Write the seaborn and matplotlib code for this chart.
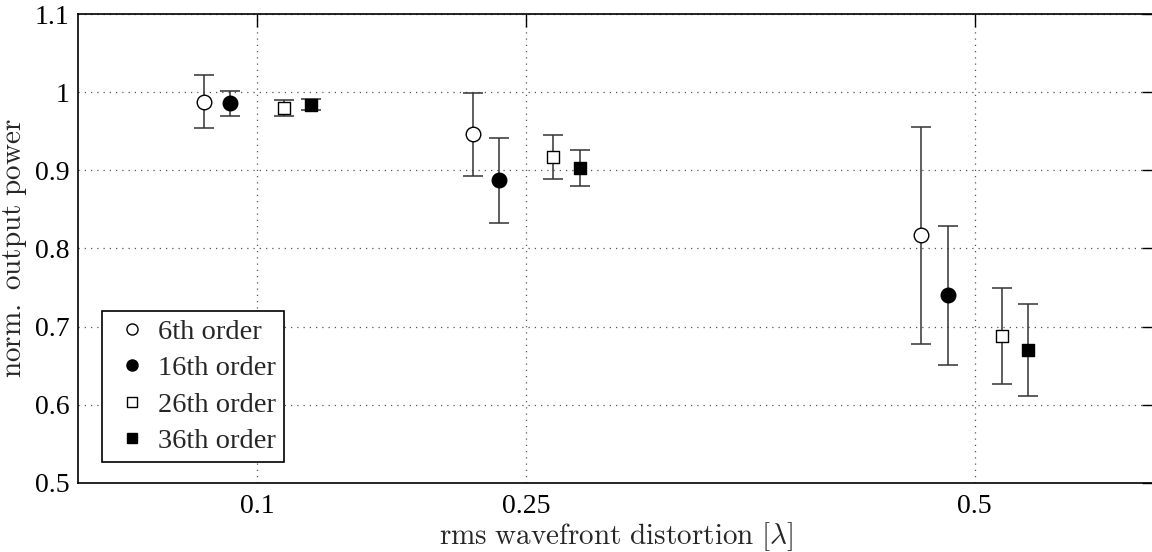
import numpy as np
import pandas as pd
import seaborn as sns
import matplotlib.pyplot as plt
from matplotlib.lines import Line2D

# rms wavefront distortion groups (in lambda)
distortion = [0.1, 0.25, 0.5]
orders = ['6th order', '16th order', '26th order', '36th order']

# normalized output power (mean) and error half-width per order
power_6 = [0.988, 0.946, 0.817]
err_6 = [0.034, 0.053, 0.139]
power_16 = [0.986, 0.887, 0.740]
err_16 = [0.016, 0.055, 0.089]
power_26 = [0.980, 0.917, 0.688]
err_26 = [0.010, 0.028, 0.061]
power_36 = [0.984, 0.903, 0.670]
err_36 = [0.007, 0.023, 0.059]

powers = [power_6, power_16, power_26, power_36]
errs = [err_6, err_16, err_26, err_36]

rows = []
dodge = [-0.03, -0.015, 0.015, 0.03]
for o, p, e, d in zip(orders, powers, errs, dodge):
    for x, v, s in zip(distortion, p, e):
        rows.append({'order': o, 'x': x + d, 'power': v, 'err': s})
df = pd.DataFrame(rows)

sns.set_style('white')
plt.rcParams['font.family'] = ['Liberation Serif', 'DejaVu Serif']
plt.rcParams['mathtext.fontset'] = 'cm'

fig = plt.figure(figsize=(11.52, 5.52), dpi=100)
# right border of the axes lies just outside the canvas, as in the original
ax = fig.add_axes([78 / 1152, 1 - 483 / 552, (1154 - 78) / 1152, (483 - 14) / 552])

styles = {
    '6th order': dict(marker='o', face='white', size=110),
    '16th order': dict(marker='o', face='black', size=110),
    '26th order': dict(marker='s', face='white', size=70),
    '36th order': dict(marker='s', face='black', size=80),
}

for o in orders:
    sub = df[df['order'] == o]
    ax.errorbar(sub['x'], sub['power'], yerr=sub['err'], fmt='none',
                ecolor='#333333', elinewidth=1.1, capsize=7, capthick=1.1, zorder=2)
    st = styles[o]
    sns.scatterplot(data=sub, x='x', y='power', ax=ax, marker=st['marker'],
                    color=st['face'], edgecolor='black', linewidth=1.0,
                    s=st['size'], zorder=3, legend=False)

ax.set_xlim(0, 0.6)
ax.set_ylim(0.5, 1.1)
ax.set_xticks(distortion)
ax.set_xticklabels(['0.1', '0.25', '0.5'])
ax.set_yticks([0.5, 0.6, 0.7, 0.8, 0.9, 1.0, 1.1])
ax.set_yticklabels(['0.5', '0.6', '0.7', '0.8', '0.9', '1', '1.1'])

ax.grid(True, linestyle=(0, (1, 4)), color='#555555', linewidth=0.9)
ax.tick_params(direction='in', length=9, width=1, top=True, right=True,
               labelsize=20, pad=6, colors='black')
ax.tick_params(axis='x', pad=8)
for sp in ax.spines.values():
    sp.set_visible(True)
    sp.set_color('black')
    sp.set_linewidth(1.2)

ax.set_xlabel(r'$\mathrm{rms\ wavefront\ distortion\ [\lambda]}$', fontsize=21, labelpad=1)
ax.set_ylabel(r'$\mathrm{norm.\ output\ power}$', fontsize=21, labelpad=4)

handles = []
for o in orders:
    st = styles[o]
    handles.append(Line2D([], [], linestyle='none', marker=st['marker'],
                          markerfacecolor=st['face'], markeredgecolor='black',
                          markersize=8 if st['marker'] == 'o' else 6.5))
leg = ax.legend(handles, orders, loc='lower left', bbox_to_anchor=(0.0223, 0.0448),
                borderaxespad=0, fontsize=20.5, frameon=True, fancybox=False,
                edgecolor='black', framealpha=1, handletextpad=0.15,
                labelspacing=0.37, borderpad=0.28, handlelength=1.55)
leg.get_frame().set_linewidth(1.2)

fig.savefig('out.png', dpi=100)
